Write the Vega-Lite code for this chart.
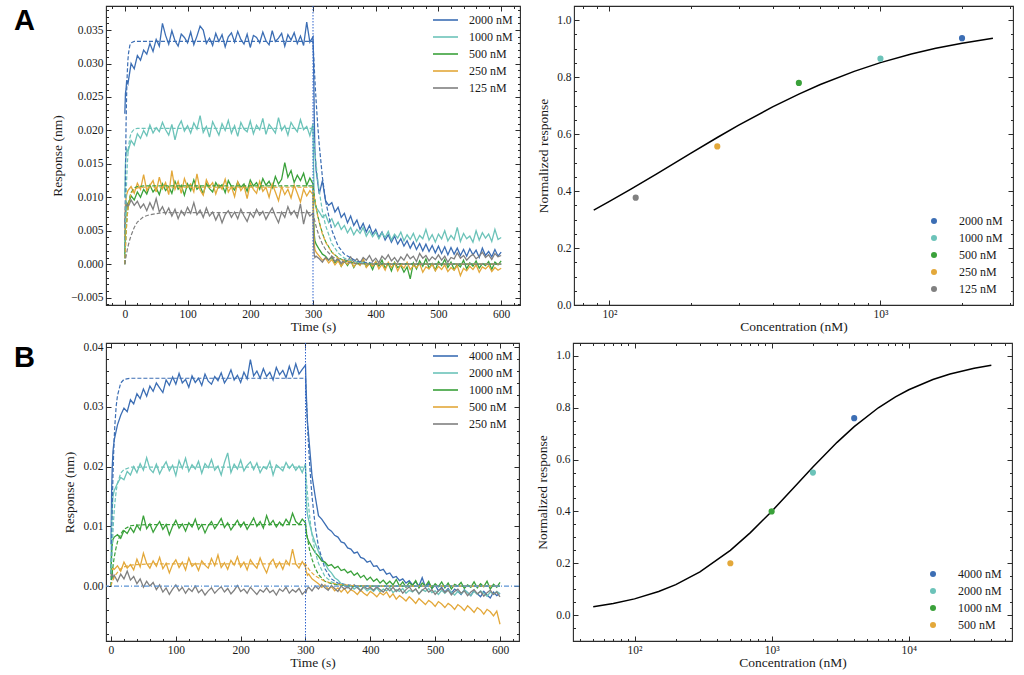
{
  "$schema": "https://vega.github.io/schema/vega-lite/v6.json",
  "background": "white",
  "padding": {"left": 12, "top": 4, "right": 0, "bottom": 0},
  "spacing": 6,
  "resolve": {"scale": {"color": "independent", "stroke": "independent"}},
  "vconcat": [
    {
      "spacing": 14,
      "resolve": {"scale": {"color": "independent", "stroke": "independent"}},
      "hconcat": [
        {
          "width": 414,
          "height": 299,
          "resolve": {"axis": {"x": "independent", "y": "independent"}},
          "layer": [
            {
              "data": {"values": [
                {"t":0,"n2000":0.0225,"n1000":0.0100,"n500":0.0015,"n250":0.0040,"n125":0.0055},
                {"t":1,"n2000":0.0255,"n1000":0.0150,"n500":0.0060,"n250":0.0090,"n125":0.0080},
                {"t":2,"n2000":0.0262,"n1000":0.0165,"n500":0.0085,"n250":0.0098,"n125":0.0088},
                {"t":3,"n2000":0.0275,"n1000":0.0172,"n500":0.0092,"n250":0.0104,"n125":0.0092},
                {"t":5,"n2000":0.0270,"n1000":0.0168,"n500":0.0088,"n250":0.0110,"n125":0.0085},
                {"t":10,"n2000":0.0300,"n1000":0.0185,"n500":0.0102,"n250":0.0116,"n125":0.0096},
                {"t":15,"n2000":0.0292,"n1000":0.0178,"n500":0.0096,"n250":0.0106,"n125":0.0088},
                {"t":20,"n2000":0.0312,"n1000":0.0195,"n500":0.0108,"n250":0.0121,"n125":0.0094},
                {"t":25,"n2000":0.0305,"n1000":0.0188,"n500":0.0100,"n250":0.0112,"n125":0.0084},
                {"t":30,"n2000":0.0320,"n1000":0.0200,"n500":0.0112,"n250":0.0134,"n125":0.0090},
                {"t":35,"n2000":0.0314,"n1000":0.0192,"n500":0.0105,"n250":0.0110,"n125":0.0080},
                {"t":40,"n2000":0.0330,"n1000":0.0208,"n500":0.0118,"n250":0.0118,"n125":0.0092},
                {"t":45,"n2000":0.0318,"n1000":0.0196,"n500":0.0108,"n250":0.0125,"n125":0.0082},
                {"t":50,"n2000":0.0336,"n1000":0.0204,"n500":0.0114,"n250":0.0108,"n125":0.0098},
                {"t":55,"n2000":0.0326,"n1000":0.0198,"n500":0.0104,"n250":0.0130,"n125":0.0078},
                {"t":60,"n2000":0.0360,"n1000":0.0212,"n500":0.0120,"n250":0.0113,"n125":0.0086},
                {"t":65,"n2000":0.0342,"n1000":0.0201,"n500":0.0110,"n250":0.0122,"n125":0.0075},
                {"t":70,"n2000":0.0329,"n1000":0.0193,"n500":0.0116,"n250":0.0104,"n125":0.0084},
                {"t":75,"n2000":0.0349,"n1000":0.0209,"n500":0.0106,"n250":0.0140,"n125":0.0072},
                {"t":80,"n2000":0.0334,"n1000":0.0186,"n500":0.0124,"n250":0.0112,"n125":0.0082},
                {"t":85,"n2000":0.0326,"n1000":0.0205,"n500":0.0112,"n250":0.0124,"n125":0.0068},
                {"t":90,"n2000":0.0344,"n1000":0.0214,"n500":0.0118,"n250":0.0106,"n125":0.0080},
                {"t":95,"n2000":0.0339,"n1000":0.0199,"n500":0.0103,"n250":0.0128,"n125":0.0073},
                {"t":100,"n2000":0.0331,"n1000":0.0207,"n500":0.0120,"n250":0.0115,"n125":0.0085},
                {"t":105,"n2000":0.0347,"n1000":0.0196,"n500":0.0110,"n250":0.0120,"n125":0.0076},
                {"t":110,"n2000":0.0328,"n1000":0.0211,"n500":0.0126,"n250":0.0108,"n125":0.0092},
                {"t":115,"n2000":0.0341,"n1000":0.0202,"n500":0.0112,"n250":0.0135,"n125":0.0074},
                {"t":120,"n2000":0.0356,"n1000":0.0222,"n500":0.0117,"n250":0.0111,"n125":0.0081},
                {"t":125,"n2000":0.0350,"n1000":0.0197,"n500":0.0105,"n250":0.0103,"n125":0.0070},
                {"t":130,"n2000":0.0330,"n1000":0.0206,"n500":0.0121,"n250":0.0126,"n125":0.0084},
                {"t":135,"n2000":0.0338,"n1000":0.0190,"n500":0.0113,"n250":0.0116,"n125":0.0072},
                {"t":140,"n2000":0.0327,"n1000":0.0213,"n500":0.0108,"n250":0.0122,"n125":0.0078},
                {"t":145,"n2000":0.0345,"n1000":0.0203,"n500":0.0122,"n250":0.0105,"n125":0.0066},
                {"t":150,"n2000":0.0333,"n1000":0.0193,"n500":0.0114,"n250":0.0119,"n125":0.0076},
                {"t":155,"n2000":0.0343,"n1000":0.0210,"n500":0.0119,"n250":0.0112,"n125":0.0062},
                {"t":160,"n2000":0.0325,"n1000":0.0200,"n500":0.0107,"n250":0.0127,"n125":0.0074},
                {"t":165,"n2000":0.0340,"n1000":0.0215,"n500":0.0125,"n250":0.0108,"n125":0.0080},
                {"t":170,"n2000":0.0346,"n1000":0.0196,"n500":0.0116,"n250":0.0116,"n125":0.0070},
                {"t":175,"n2000":0.0332,"n1000":0.0207,"n500":0.0111,"n250":0.0101,"n125":0.0078},
                {"t":180,"n2000":0.0348,"n1000":0.0191,"n500":0.0123,"n250":0.0123,"n125":0.0068},
                {"t":185,"n2000":0.0336,"n1000":0.0212,"n500":0.0115,"n250":0.0110,"n125":0.0082},
                {"t":190,"n2000":0.0329,"n1000":0.0202,"n500":0.0120,"n250":0.0117,"n125":0.0072},
                {"t":195,"n2000":0.0344,"n1000":0.0198,"n500":0.0109,"n250":0.0098,"n125":0.0064},
                {"t":200,"n2000":0.0324,"n1000":0.0214,"n500":0.0126,"n250":0.0121,"n125":0.0077},
                {"t":205,"n2000":0.0342,"n1000":0.0195,"n500":0.0117,"n250":0.0112,"n125":0.0070},
                {"t":210,"n2000":0.0339,"n1000":0.0208,"n500":0.0122,"n250":0.0106,"n125":0.0082},
                {"t":215,"n2000":0.0331,"n1000":0.0201,"n500":0.0112,"n250":0.0124,"n125":0.0073},
                {"t":220,"n2000":0.0347,"n1000":0.0218,"n500":0.0128,"n250":0.0109,"n125":0.0079},
                {"t":225,"n2000":0.0334,"n1000":0.0194,"n500":0.0118,"n250":0.0115,"n125":0.0067},
                {"t":230,"n2000":0.0328,"n1000":0.0209,"n500":0.0124,"n250":0.0100,"n125":0.0076},
                {"t":235,"n2000":0.0349,"n1000":0.0203,"n500":0.0114,"n250":0.0120,"n125":0.0084},
                {"t":240,"n2000":0.0333,"n1000":0.0196,"n500":0.0131,"n250":0.0108,"n125":0.0072},
                {"t":245,"n2000":0.0338,"n1000":0.0219,"n500":0.0120,"n250":0.0095,"n125":0.0062},
                {"t":250,"n2000":0.0345,"n1000":0.0200,"n500":0.0127,"n250":0.0116,"n125":0.0078},
                {"t":255,"n2000":0.0326,"n1000":0.0207,"n500":0.0152,"n250":0.0104,"n125":0.0070},
                {"t":260,"n2000":0.0343,"n1000":0.0193,"n500":0.0130,"n250":0.0112,"n125":0.0086},
                {"t":265,"n2000":0.0335,"n1000":0.0212,"n500":0.0140,"n250":0.0099,"n125":0.0074},
                {"t":270,"n2000":0.0346,"n1000":0.0204,"n500":0.0122,"n250":0.0118,"n125":0.0080},
                {"t":275,"n2000":0.0330,"n1000":0.0198,"n500":0.0133,"n250":0.0106,"n125":0.0070},
                {"t":280,"n2000":0.0341,"n1000":0.0216,"n500":0.0125,"n250":0.0093,"n125":0.0090},
                {"t":285,"n2000":0.0327,"n1000":0.0201,"n500":0.0136,"n250":0.0112,"n125":0.0060},
                {"t":290,"n2000":0.0362,"n1000":0.0206,"n500":0.0118,"n250":0.0102,"n125":0.0080},
                {"t":295,"n2000":0.0332,"n1000":0.0192,"n500":0.0129,"n250":0.0110,"n125":0.0072},
                {"t":300,"n2000":0.0340,"n1000":0.0210,"n500":0.0120,"n250":0.0104,"n125":0.0076},
                {"t":301,"n2000":0.0300,"n1000":0.0140,"n500":0.0070,"n250":0.0055,"n125":0.0030},
                {"t":302,"n2000":0.0220,"n1000":0.0100,"n500":0.0045,"n250":0.0030,"n125":0.0015},
                {"t":303,"n2000":0.0170,"n1000":0.0090,"n500":0.0035,"n250":0.0022,"n125":0.0010},
                {"t":305,"n2000":0.0140,"n1000":0.0085,"n500":0.0030,"n250":0.0018,"n125":0.0012},
                {"t":310,"n2000":0.0105,"n1000":0.0078,"n500":0.0022,"n250":0.0012,"n125":0.0008},
                {"t":315,"n2000":0.0125,"n1000":0.0070,"n500":0.0015,"n250":0.0006,"n125":0.0003},
                {"t":320,"n2000":0.0095,"n1000":0.0074,"n500":0.0012,"n250":0.0009,"n125":0.0010},
                {"t":325,"n2000":0.0088,"n1000":0.0062,"n500":0.0006,"n250":0.0002,"n125":0.0006},
                {"t":330,"n2000":0.0092,"n1000":0.0068,"n500":0.0010,"n250":0.0007,"n125":0.0012},
                {"t":335,"n2000":0.0078,"n1000":0.0056,"n500":0.0002,"n250":-0.0001,"n125":0.0004},
                {"t":340,"n2000":0.0085,"n1000":0.0063,"n500":0.0008,"n250":0.0005,"n125":0.0009},
                {"t":345,"n2000":0.0070,"n1000":0.0052,"n500":-0.0003,"n250":-0.0003,"n125":0.0001},
                {"t":350,"n2000":0.0076,"n1000":0.0058,"n500":0.0005,"n250":0.0004,"n125":0.0007},
                {"t":355,"n2000":0.0062,"n1000":0.0047,"n500":-0.0002,"n250":0.0000,"n125":0.0005},
                {"t":360,"n2000":0.0072,"n1000":0.0055,"n500":0.0006,"n250":0.0006,"n125":0.0011},
                {"t":365,"n2000":0.0058,"n1000":0.0044,"n500":-0.0005,"n250":-0.0004,"n125":0.0003},
                {"t":370,"n2000":0.0066,"n1000":0.0052,"n500":0.0003,"n250":0.0002,"n125":0.0008},
                {"t":375,"n2000":0.0052,"n1000":0.0046,"n500":-0.0001,"n250":-0.0002,"n125":0.0002},
                {"t":380,"n2000":0.0061,"n1000":0.0055,"n500":0.0007,"n250":0.0008,"n125":0.0010},
                {"t":385,"n2000":0.0048,"n1000":0.0042,"n500":-0.0004,"n250":-0.0005,"n125":0.0006},
                {"t":390,"n2000":0.0058,"n1000":0.0050,"n500":0.0002,"n250":0.0001,"n125":0.0013},
                {"t":395,"n2000":0.0045,"n1000":0.0041,"n500":-0.0008,"n250":-0.0003,"n125":0.0004},
                {"t":400,"n2000":0.0052,"n1000":0.0048,"n500":0.0004,"n250":0.0004,"n125":0.0009},
                {"t":405,"n2000":0.0040,"n1000":0.0038,"n500":-0.0003,"n250":-0.0007,"n125":0.0002},
                {"t":410,"n2000":0.0048,"n1000":0.0047,"n500":0.0006,"n250":0.0000,"n125":0.0012},
                {"t":415,"n2000":0.0036,"n1000":0.0040,"n500":-0.0006,"n250":-0.0009,"n125":0.0007},
                {"t":420,"n2000":0.0044,"n1000":0.0049,"n500":0.0001,"n250":0.0003,"n125":0.0014},
                {"t":425,"n2000":0.0033,"n1000":0.0036,"n500":-0.0010,"n250":-0.0005,"n125":0.0005},
                {"t":430,"n2000":0.0042,"n1000":0.0045,"n500":0.0003,"n250":0.0002,"n125":0.0010},
                {"t":435,"n2000":0.0030,"n1000":0.0039,"n500":-0.0005,"n250":-0.0010,"n125":0.0003},
                {"t":440,"n2000":0.0038,"n1000":0.0048,"n500":-0.0002,"n250":-0.0001,"n125":0.0011},
                {"t":445,"n2000":0.0027,"n1000":0.0035,"n500":-0.0012,"n250":-0.0006,"n125":0.0006},
                {"t":450,"n2000":0.0035,"n1000":0.0044,"n500":-0.0004,"n250":0.0003,"n125":0.0015},
                {"t":455,"n2000":0.0024,"n1000":0.0037,"n500":-0.0022,"n250":-0.0008,"n125":0.0008},
                {"t":460,"n2000":0.0033,"n1000":0.0046,"n500":0.0002,"n250":-0.0002,"n125":0.0012},
                {"t":465,"n2000":0.0022,"n1000":0.0034,"n500":-0.0007,"n250":-0.0005,"n125":0.0004},
                {"t":470,"n2000":0.0031,"n1000":0.0043,"n500":0.0005,"n250":0.0001,"n125":0.0016},
                {"t":475,"n2000":0.0020,"n1000":0.0038,"n500":-0.0003,"n250":-0.0012,"n125":0.0009},
                {"t":480,"n2000":0.0030,"n1000":0.0052,"n500":0.0008,"n250":-0.0004,"n125":0.0013},
                {"t":485,"n2000":0.0019,"n1000":0.0036,"n500":-0.0006,"n250":-0.0007,"n125":0.0005},
                {"t":490,"n2000":0.0028,"n1000":0.0044,"n500":0.0001,"n250":0.0000,"n125":0.0011},
                {"t":495,"n2000":0.0017,"n1000":0.0033,"n500":-0.0009,"n250":-0.0010,"n125":0.0007},
                {"t":500,"n2000":0.0027,"n1000":0.0045,"n500":0.0004,"n250":-0.0003,"n125":0.0014},
                {"t":505,"n2000":0.0016,"n1000":0.0038,"n500":-0.0002,"n250":-0.0008,"n125":0.0006},
                {"t":510,"n2000":0.0026,"n1000":0.0050,"n500":0.0007,"n250":-0.0001,"n125":0.0012},
                {"t":515,"n2000":0.0014,"n1000":0.0035,"n500":-0.0005,"n250":-0.0011,"n125":0.0003},
                {"t":520,"n2000":0.0025,"n1000":0.0043,"n500":0.0003,"n250":-0.0005,"n125":0.0010},
                {"t":525,"n2000":0.0015,"n1000":0.0037,"n500":-0.0008,"n250":-0.0009,"n125":0.0008},
                {"t":530,"n2000":0.0024,"n1000":0.0055,"n500":0.0000,"n250":-0.0002,"n125":0.0017},
                {"t":535,"n2000":0.0013,"n1000":0.0034,"n500":-0.0004,"n250":-0.0017,"n125":0.0009},
                {"t":540,"n2000":0.0022,"n1000":0.0046,"n500":0.0006,"n250":-0.0006,"n125":0.0013},
                {"t":545,"n2000":0.0012,"n1000":0.0038,"n500":-0.0007,"n250":-0.0010,"n125":0.0006},
                {"t":550,"n2000":0.0023,"n1000":0.0042,"n500":0.0002,"n250":-0.0003,"n125":0.0011},
                {"t":555,"n2000":0.0014,"n1000":0.0033,"n500":-0.0003,"n250":-0.0008,"n125":0.0015},
                {"t":560,"n2000":0.0021,"n1000":0.0050,"n500":0.0005,"n250":-0.0001,"n125":0.0008},
                {"t":565,"n2000":0.0010,"n1000":0.0036,"n500":-0.0006,"n250":-0.0012,"n125":0.0012},
                {"t":570,"n2000":0.0024,"n1000":0.0047,"n500":0.0001,"n250":-0.0004,"n125":0.0018},
                {"t":575,"n2000":0.0013,"n1000":0.0039,"n500":-0.0002,"n250":-0.0007,"n125":0.0010},
                {"t":580,"n2000":0.0019,"n1000":0.0045,"n500":0.0004,"n250":-0.0002,"n125":0.0014},
                {"t":585,"n2000":0.0011,"n1000":0.0034,"n500":-0.0008,"n250":-0.0011,"n125":0.0007},
                {"t":590,"n2000":0.0022,"n1000":0.0052,"n500":0.0003,"n250":-0.0005,"n125":0.0016},
                {"t":595,"n2000":0.0012,"n1000":0.0037,"n500":-0.0001,"n250":-0.0009,"n125":0.0011},
                {"t":600,"n2000":0.0018,"n1000":0.0040,"n500":0.0005,"n250":-0.0006,"n125":0.0013}
              ]},
              "transform": [{"fold": ["n2000", "n1000", "n500", "n250", "n125"], "as": ["k", "r"]}],
              "mark": {"type": "line", "strokeWidth": 1.3},
              "encoding": {
                "x": {"field": "t", "type": "quantitative", "scale": {"domain": [-30, 630], "nice": false}, "axis": {"orient": "bottom", "offset": -5, "titlePadding": 0, "values": [0, 100, 200, 300, 400, 500, 600], "format": "d", "title": "Time (s)"}},
                "y": {"field": "r", "type": "quantitative", "scale": {"domain": [-0.0061, 0.0386], "nice": false, "zero": false}, "axis": {"orient": "left", "offset": -5, "values": [-0.005, 0, 0.005, 0.01, 0.015, 0.02, 0.025, 0.03, 0.035], "format": ".3f", "title": "Response (nm)"}},
                "color": {"field": "k", "type": "nominal", "scale": {"domain": ["n2000", "n1000", "n500", "n250", "n125"], "range": ["#3c6eb4", "#6cc3b9", "#3aa13a", "#e3a83a", "#808080"]}, "legend": {"orient": "none", "legendX": 333.5, "legendY": 8, "title": null, "padding": 0, "symbolType": "M-2.5,0H2.5", "symbolSize": 100, "symbolStrokeWidth": 1.6, "symbolDash": [], "labelOffset": 17.5, "rowPadding": 5, "labelFontSize": 12, "labelExpr": "slice(datum.label, 1) + ' nM'"}}
              }
            },
            {
              "data": {"values": [
                {"t":0,"n2000":0,"n1000":0,"n500":0,"n250":0,"n125":0},
                {"t":1,"n2000":0.0131,"n1000":0.0058,"n500":0.0026,"n250":0.0025,"n125":0.0006},
                {"t":2,"n2000":0.0211,"n1000":0.0099,"n500":0.0046,"n250":0.0045,"n125":0.0012},
                {"t":3,"n2000":0.0259,"n1000":0.0128,"n500":0.0062,"n250":0.0061,"n125":0.0017},
                {"t":4,"n2000":0.0288,"n1000":0.0149,"n500":0.0074,"n250":0.0073,"n125":0.0022},
                {"t":5,"n2000":0.0306,"n1000":0.0165,"n500":0.0083,"n250":0.0082,"n125":0.0026},
                {"t":6,"n2000":0.0316,"n1000":0.0176,"n500":0.0091,"n250":0.0089,"n125":0.0030},
                {"t":8,"n2000":0.0327,"n1000":0.0189,"n500":0.0101,"n250":0.0099,"n125":0.0037},
                {"t":10,"n2000":0.0331,"n1000":0.0196,"n500":0.0107,"n250":0.0106,"n125":0.0043},
                {"t":15,"n2000":0.0333,"n1000":0.0202,"n500":0.0114,"n250":0.0112,"n125":0.0055},
                {"t":20,"n2000":0.0333,"n1000":0.0203,"n500":0.0116,"n250":0.0114,"n125":0.0063},
                {"t":30,"n2000":0.0333,"n1000":0.0203,"n500":0.0117,"n250":0.0115,"n125":0.0071},
                {"t":40,"n2000":0.0333,"n1000":0.0203,"n500":0.0117,"n250":0.0115,"n125":0.0074},
                {"t":60,"n2000":0.0333,"n1000":0.0203,"n500":0.0117,"n250":0.0115,"n125":0.0077},
                {"t":300,"n2000":0.0333,"n1000":0.0203,"n500":0.0117,"n250":0.0115,"n125":0.0077},
                {"t":302,"n2000":0.0294,"n1000":0.0179,"n500":0.0103,"n250":0.0101,"n125":0.0068},
                {"t":304,"n2000":0.0259,"n1000":0.0158,"n500":0.0091,"n250":0.0090,"n125":0.0060},
                {"t":306,"n2000":0.0229,"n1000":0.0140,"n500":0.0080,"n250":0.0079,"n125":0.0053},
                {"t":308,"n2000":0.0202,"n1000":0.0123,"n500":0.0071,"n250":0.0070,"n125":0.0047},
                {"t":310,"n2000":0.0178,"n1000":0.0109,"n500":0.0063,"n250":0.0062,"n125":0.0041},
                {"t":315,"n2000":0.0130,"n1000":0.0079,"n500":0.0046,"n250":0.0045,"n125":0.0030},
                {"t":320,"n2000":0.0095,"n1000":0.0058,"n500":0.0034,"n250":0.0033,"n125":0.0022},
                {"t":330,"n2000":0.0051,"n1000":0.0031,"n500":0.0018,"n250":0.0018,"n125":0.0012},
                {"t":340,"n2000":0.0027,"n1000":0.0017,"n500":0.0010,"n250":0.0009,"n125":0.0006},
                {"t":350,"n2000":0.0015,"n1000":0.0009,"n500":0.0005,"n250":0.0005,"n125":0.0003},
                {"t":370,"n2000":0.0004,"n1000":0.0003,"n500":0.0001,"n250":0.0001,"n125":0.0001},
                {"t":400,"n2000":0.0001,"n1000":0,"n500":0,"n250":0,"n125":0},
                {"t":600,"n2000":0,"n1000":0,"n500":0,"n250":0,"n125":0}
              ]},
              "transform": [{"fold": ["n2000", "n1000", "n500", "n250", "n125"], "as": ["k", "r"]}],
              "mark": {"type": "line", "strokeWidth": 1.2, "strokeDash": [4, 2]},
              "encoding": {
                "x": {"field": "t", "type": "quantitative", "axis": {"orient": "top", "offset": -5, "values": [0, 100, 200, 300, 400, 500, 600], "labels": false, "title": null}},
                "y": {"field": "r", "type": "quantitative", "axis": {"orient": "right", "offset": -5, "values": [-0.005, 0, 0.005, 0.01, 0.015, 0.02, 0.025, 0.03, 0.035], "labels": false, "title": null}},
                "stroke": {"field": "k", "type": "nominal", "scale": {"domain": ["n2000", "n1000", "n500", "n250", "n125"], "range": ["#3c6eb4", "#6cc3b9", "#3aa13a", "#e3a83a", "#808080"]}, "legend": null}
              }
            },
            {
              "data": {"values": [{"t": 300}]},
              "mark": {"type": "rule", "color": "#2f63cc", "strokeWidth": 1, "strokeDash": [1.5, 1.5]},
              "encoding": {"x": {"field": "t", "type": "quantitative", "axis": null}}
            },
            {
              "data": {"values": [{"t": 0, "r": 0}]},
              "mark": {"type": "point", "opacity": 0},
              "encoding": {
                "x": {"field": "t", "type": "quantitative", "axis": {"orient": "bottom", "offset": -2.5, "tickSize": 2.5, "values": [-20,0,20,40,60,80,100,120,140,160,180,200,220,240,260,280,300,320,340,360,380,400,420,440,460,480,500,520,540,560,580,600,620], "labels": false, "title": null}},
                "y": {"field": "r", "type": "quantitative", "axis": {"orient": "left", "offset": -2.5, "tickSize": 2.5, "values": [-0.006,-0.005,-0.004,-0.003,-0.002,-0.001,0,0.001,0.002,0.003,0.004,0.005,0.006,0.007,0.008,0.009,0.01,0.011,0.012,0.013,0.014,0.015,0.016,0.017,0.018,0.019,0.02,0.021,0.022,0.023,0.024,0.025,0.026,0.027,0.028,0.029,0.03,0.031,0.032,0.033,0.034,0.035,0.036,0.037,0.038], "labels": false, "title": "A", "titleFont": "Liberation Sans", "titleFontSize": 29, "titleFontWeight": "bold", "titleColor": "#000", "titleAngle": 0, "titleAlign": "left", "titleBaseline": "top", "titleX": -95, "titleY": 0}}
              }
            },
            {
              "data": {"values": [{"t": 0, "r": 0}]},
              "mark": {"type": "point", "opacity": 0},
              "encoding": {
                "x": {"field": "t", "type": "quantitative", "axis": {"orient": "top", "offset": -2.5, "tickSize": 2.5, "values": [-20,0,20,40,60,80,100,120,140,160,180,200,220,240,260,280,300,320,340,360,380,400,420,440,460,480,500,520,540,560,580,600,620], "labels": false, "title": null}},
                "y": {"field": "r", "type": "quantitative", "axis": {"orient": "right", "offset": -2.5, "tickSize": 2.5, "values": [-0.006,-0.005,-0.004,-0.003,-0.002,-0.001,0,0.001,0.002,0.003,0.004,0.005,0.006,0.007,0.008,0.009,0.01,0.011,0.012,0.013,0.014,0.015,0.016,0.017,0.018,0.019,0.02,0.021,0.022,0.023,0.024,0.025,0.026,0.027,0.028,0.029,0.03,0.031,0.032,0.033,0.034,0.035,0.036,0.037,0.038], "labels": false, "title": null}}
              }
            }
          ]
        },
        {
          "width": 439,
          "height": 299,
          "resolve": {"axis": {"x": "independent", "y": "independent"}},
          "layer": [
            {
              "data": {"values": [
                {"c":87.5,"r":0.3333},{"c":100,"r":0.3636},{"c":120,"r":0.4068},{"c":150,"r":0.4615},
                {"c":200,"r":0.5333},{"c":250,"r":0.5882},{"c":300,"r":0.6316},{"c":400,"r":0.6957},
                {"c":500,"r":0.7407},{"c":600,"r":0.7742},{"c":800,"r":0.8205},{"c":1000,"r":0.8511},
                {"c":1300,"r":0.8814},{"c":1600,"r":0.9014},{"c":2000,"r":0.9195},{"c":2600,"r":0.9369}
              ]},
              "mark": {"type": "line", "color": "#000", "strokeWidth": 1.5},
              "encoding": {
                "x": {"field": "c", "type": "quantitative", "scale": {"type": "log", "domain": [74, 3084], "nice": false}, "axis": {"orient": "bottom", "offset": -5, "titlePadding": 0, "values": [100, 1000], "labelExpr": "datum.value == 100 ? '10²' : '10³'", "title": "Concentration (nM)"}},
                "y": {"field": "r", "type": "quantitative", "scale": {"domain": [0, 1.05], "nice": false}, "axis": {"orient": "left", "offset": -5, "values": [0, 0.2, 0.4, 0.6, 0.8, 1.0], "format": ".1f", "title": "Normalized response"}}
              }
            },
            {
              "data": {"values": [
                {"c":125,"r":0.377,"k":"n125"},
                {"c":250,"r":0.557,"k":"n250"},
                {"c":500,"r":0.780,"k":"n500"},
                {"c":1000,"r":0.865,"k":"n1000"},
                {"c":2000,"r":0.937,"k":"n2000"}
              ]},
              "mark": {"type": "point", "filled": true, "size": 38, "opacity": 1},
              "encoding": {
                "x": {"field": "c", "type": "quantitative", "axis": {"orient": "top", "offset": -5, "values": [100, 1000], "labels": false, "title": null}},
                "y": {"field": "r", "type": "quantitative", "axis": {"orient": "right", "offset": -5, "values": [0, 0.2, 0.4, 0.6, 0.8, 1.0], "labels": false, "title": null}},
                "color": {"field": "k", "type": "nominal", "scale": {"domain": ["n2000", "n1000", "n500", "n250", "n125"], "range": ["#3c6eb4", "#6cc3b9", "#3aa13a", "#e3a83a", "#808080"]}, "legend": {"orient": "bottom-right", "offset": 10, "title": null, "padding": 0, "symbolType": "circle", "symbolSize": 36, "symbolOpacity": 1, "labelOffset": 19, "rowPadding": 5, "labelFontSize": 12, "labelExpr": "slice(datum.label, 1) + ' nM'"}}
              }
            },
            {
              "data": {"values": [{"c": 100, "r": 0.5}]},
              "mark": {"type": "point", "opacity": 0},
              "encoding": {
                "x": {"field": "c", "type": "quantitative", "axis": {"orient": "bottom", "offset": -2.5, "tickSize": 2.5, "values": [80,90,200,300,400,500,600,700,800,900,2000,3000], "labels": false, "title": null}},
                "y": {"field": "r", "type": "quantitative", "axis": {"orient": "left", "offset": -2.5, "tickSize": 2.5, "values": [0,0.05,0.1,0.15,0.2,0.25,0.3,0.35,0.4,0.45,0.5,0.55,0.6,0.65,0.7,0.75,0.8,0.85,0.9,0.95,1.0], "labels": false, "title": null}}
              }
            },
            {
              "data": {"values": [{"c": 100, "r": 0.5}]},
              "mark": {"type": "point", "opacity": 0},
              "encoding": {
                "x": {"field": "c", "type": "quantitative", "axis": {"orient": "top", "offset": -2.5, "tickSize": 2.5, "values": [80,90,200,300,400,500,600,700,800,900,2000,3000], "labels": false, "title": null}},
                "y": {"field": "r", "type": "quantitative", "axis": {"orient": "right", "offset": -2.5, "tickSize": 2.5, "values": [0,0.05,0.1,0.15,0.2,0.25,0.3,0.35,0.4,0.45,0.5,0.55,0.6,0.65,0.7,0.75,0.8,0.85,0.9,0.95,1.0], "labels": false, "title": null}}
              }
            }
          ]
        }
      ]
    },
    {
      "spacing": 14,
      "resolve": {"scale": {"color": "independent", "stroke": "independent"}},
      "hconcat": [
        {
          "width": 413,
          "height": 298,
          "resolve": {"axis": {"x": "independent", "y": "independent"}},
          "layer": [
            {
              "data": {"values": [
                {"t":0,"n4000":0.0070,"n2000":0.0030,"n1000":0.0020,"n500":0.0015,"n250":0.0022},
                {"t":1,"n4000":0.0160,"n2000":0.0100,"n1000":0.0055,"n500":0.0020,"n250":0.0015},
                {"t":2,"n4000":0.0200,"n2000":0.0130,"n1000":0.0070,"n500":0.0025,"n250":0.0025},
                {"t":3,"n4000":0.0225,"n2000":0.0150,"n1000":0.0078,"n500":0.0030,"n250":0.0012},
                {"t":5,"n4000":0.0245,"n2000":0.0160,"n1000":0.0082,"n500":0.0028,"n250":0.0018},
                {"t":10,"n4000":0.0270,"n2000":0.0172,"n1000":0.0086,"n500":0.0034,"n250":0.0008},
                {"t":15,"n4000":0.0286,"n2000":0.0182,"n1000":0.0080,"n500":0.0025,"n250":0.0020},
                {"t":20,"n4000":0.0298,"n2000":0.0178,"n1000":0.0093,"n500":0.0040,"n250":0.0012},
                {"t":25,"n4000":0.0292,"n2000":0.0192,"n1000":0.0088,"n500":0.0030,"n250":0.0025},
                {"t":30,"n4000":0.0312,"n2000":0.0186,"n1000":0.0098,"n500":0.0036,"n250":0.0010},
                {"t":35,"n4000":0.0305,"n2000":0.0200,"n1000":0.0090,"n500":0.0027,"n250":0.0016},
                {"t":40,"n4000":0.0322,"n2000":0.0190,"n1000":0.0102,"n500":0.0045,"n250":0.0004},
                {"t":45,"n4000":0.0314,"n2000":0.0205,"n1000":0.0094,"n500":0.0032,"n250":0.0012},
                {"t":50,"n4000":0.0330,"n2000":0.0194,"n1000":0.0118,"n500":0.0055,"n250":-0.0002},
                {"t":55,"n4000":0.0318,"n2000":0.0215,"n1000":0.0096,"n500":0.0038,"n250":0.0008},
                {"t":60,"n4000":0.0335,"n2000":0.0196,"n1000":0.0104,"n500":0.0030,"n250":0.0000},
                {"t":65,"n4000":0.0326,"n2000":0.0190,"n1000":0.0090,"n500":0.0042,"n250":0.0006},
                {"t":70,"n4000":0.0340,"n2000":0.0204,"n1000":0.0100,"n500":0.0033,"n250":-0.0006},
                {"t":75,"n4000":0.0332,"n2000":0.0188,"n1000":0.0108,"n500":0.0048,"n250":0.0002},
                {"t":80,"n4000":0.0324,"n2000":0.0199,"n1000":0.0095,"n500":0.0029,"n250":-0.0010},
                {"t":85,"n4000":0.0345,"n2000":0.0208,"n1000":0.0103,"n500":0.0038,"n250":-0.0003},
                {"t":90,"n4000":0.0336,"n2000":0.0193,"n1000":0.0086,"n500":0.0022,"n250":-0.0014},
                {"t":95,"n4000":0.0350,"n2000":0.0202,"n1000":0.0100,"n500":0.0036,"n250":-0.0005},
                {"t":100,"n4000":0.0338,"n2000":0.0185,"n1000":0.0110,"n500":0.0044,"n250":0.0002},
                {"t":105,"n4000":0.0356,"n2000":0.0210,"n1000":0.0097,"n500":0.0031,"n250":-0.0008},
                {"t":110,"n4000":0.0340,"n2000":0.0197,"n1000":0.0104,"n500":0.0040,"n250":-0.0002},
                {"t":115,"n4000":0.0346,"n2000":0.0214,"n1000":0.0092,"n500":0.0027,"n250":-0.0012},
                {"t":120,"n4000":0.0333,"n2000":0.0192,"n1000":0.0106,"n500":0.0047,"n250":-0.0004},
                {"t":125,"n4000":0.0352,"n2000":0.0203,"n1000":0.0099,"n500":0.0033,"n250":-0.0009},
                {"t":130,"n4000":0.0341,"n2000":0.0196,"n1000":0.0112,"n500":0.0038,"n250":0.0000},
                {"t":135,"n4000":0.0348,"n2000":0.0209,"n1000":0.0095,"n500":0.0026,"n250":-0.0011},
                {"t":140,"n4000":0.0336,"n2000":0.0189,"n1000":0.0103,"n500":0.0042,"n250":-0.0006},
                {"t":145,"n4000":0.0355,"n2000":0.0205,"n1000":0.0089,"n500":0.0035,"n250":-0.0015},
                {"t":150,"n4000":0.0343,"n2000":0.0198,"n1000":0.0101,"n500":0.0030,"n250":-0.0008},
                {"t":155,"n4000":0.0338,"n2000":0.0212,"n1000":0.0108,"n500":0.0046,"n250":-0.0003},
                {"t":160,"n4000":0.0351,"n2000":0.0194,"n1000":0.0096,"n500":0.0034,"n250":-0.0012},
                {"t":165,"n4000":0.0344,"n2000":0.0201,"n1000":0.0104,"n500":0.0052,"n250":-0.0006},
                {"t":170,"n4000":0.0357,"n2000":0.0186,"n1000":0.0113,"n500":0.0031,"n250":-0.0001},
                {"t":175,"n4000":0.0340,"n2000":0.0207,"n1000":0.0098,"n500":0.0039,"n250":-0.0010},
                {"t":180,"n4000":0.0349,"n2000":0.0223,"n1000":0.0106,"n500":0.0028,"n250":-0.0004},
                {"t":185,"n4000":0.0362,"n2000":0.0190,"n1000":0.0094,"n500":0.0043,"n250":-0.0013},
                {"t":190,"n4000":0.0345,"n2000":0.0204,"n1000":0.0102,"n500":0.0035,"n250":-0.0007},
                {"t":195,"n4000":0.0353,"n2000":0.0196,"n1000":0.0110,"n500":0.0049,"n250":0.0001},
                {"t":200,"n4000":0.0341,"n2000":0.0211,"n1000":0.0099,"n500":0.0032,"n250":-0.0009},
                {"t":205,"n4000":0.0358,"n2000":0.0193,"n1000":0.0107,"n500":0.0040,"n250":-0.0005},
                {"t":210,"n4000":0.0347,"n2000":0.0202,"n1000":0.0095,"n500":0.0027,"n250":-0.0012},
                {"t":215,"n4000":0.0379,"n2000":0.0208,"n1000":0.0104,"n500":0.0044,"n250":-0.0002},
                {"t":220,"n4000":0.0352,"n2000":0.0195,"n1000":0.0114,"n500":0.0036,"n250":-0.0008},
                {"t":225,"n4000":0.0360,"n2000":0.0206,"n1000":0.0100,"n500":0.0030,"n250":-0.0014},
                {"t":230,"n4000":0.0348,"n2000":0.0190,"n1000":0.0108,"n500":0.0047,"n250":-0.0006},
                {"t":235,"n4000":0.0364,"n2000":0.0200,"n1000":0.0097,"n500":0.0033,"n250":-0.0010},
                {"t":240,"n4000":0.0351,"n2000":0.0196,"n1000":0.0118,"n500":0.0022,"n250":-0.0003},
                {"t":245,"n4000":0.0358,"n2000":0.0209,"n1000":0.0103,"n500":0.0038,"n250":-0.0011},
                {"t":250,"n4000":0.0345,"n2000":0.0186,"n1000":0.0110,"n500":0.0045,"n250":-0.0007},
                {"t":255,"n4000":0.0366,"n2000":0.0203,"n1000":0.0099,"n500":0.0031,"n250":-0.0015},
                {"t":260,"n4000":0.0354,"n2000":0.0198,"n1000":0.0107,"n500":0.0040,"n250":-0.0005},
                {"t":265,"n4000":0.0361,"n2000":0.0193,"n1000":0.0101,"n500":0.0028,"n250":-0.0009},
                {"t":270,"n4000":0.0349,"n2000":0.0207,"n1000":0.0112,"n500":0.0043,"n250":-0.0002},
                {"t":275,"n4000":0.0368,"n2000":0.0197,"n1000":0.0104,"n500":0.0035,"n250":-0.0012},
                {"t":280,"n4000":0.0352,"n2000":0.0204,"n1000":0.0122,"n500":0.0062,"n250":-0.0006},
                {"t":285,"n4000":0.0372,"n2000":0.0194,"n1000":0.0108,"n500":0.0037,"n250":-0.0010},
                {"t":290,"n4000":0.0355,"n2000":0.0201,"n1000":0.0103,"n500":0.0030,"n250":-0.0004},
                {"t":295,"n4000":0.0363,"n2000":0.0190,"n1000":0.0112,"n500":0.0041,"n250":-0.0014},
                {"t":300,"n4000":0.0370,"n2000":0.0205,"n1000":0.0106,"n500":0.0032,"n250":-0.0008},
                {"t":301,"n4000":0.0330,"n2000":0.0150,"n1000":0.0092,"n500":0.0025,"n250":-0.0010},
                {"t":302,"n4000":0.0300,"n2000":0.0130,"n1000":0.0085,"n500":0.0022,"n250":-0.0006},
                {"t":303,"n4000":0.0276,"n2000":0.0120,"n1000":0.0080,"n500":0.0018,"n250":-0.0004},
                {"t":305,"n4000":0.0250,"n2000":0.0110,"n1000":0.0075,"n500":0.0020,"n250":-0.0002},
                {"t":310,"n4000":0.0185,"n2000":0.0088,"n1000":0.0065,"n500":0.0012,"n250":-0.0008},
                {"t":315,"n4000":0.0150,"n2000":0.0072,"n1000":0.0056,"n500":0.0008,"n250":0.0000},
                {"t":320,"n4000":0.0118,"n2000":0.0058,"n1000":0.0050,"n500":0.0004,"n250":-0.0005},
                {"t":325,"n4000":0.0112,"n2000":0.0046,"n1000":0.0042,"n500":-0.0002,"n250":0.0003},
                {"t":330,"n4000":0.0104,"n2000":0.0038,"n1000":0.0040,"n500":0.0002,"n250":-0.0003},
                {"t":335,"n4000":0.0096,"n2000":0.0028,"n1000":0.0034,"n500":-0.0005,"n250":-0.0007},
                {"t":340,"n4000":0.0092,"n2000":0.0022,"n1000":0.0036,"n500":-0.0001,"n250":0.0001},
                {"t":345,"n4000":0.0085,"n2000":0.0014,"n1000":0.0030,"n500":-0.0008,"n250":-0.0004},
                {"t":350,"n4000":0.0082,"n2000":0.0010,"n1000":0.0033,"n500":-0.0003,"n250":-0.0009},
                {"t":355,"n4000":0.0074,"n2000":0.0004,"n1000":0.0026,"n500":-0.0010,"n250":0.0000},
                {"t":360,"n4000":0.0072,"n2000":0.0002,"n1000":0.0028,"n500":-0.0004,"n250":-0.0005},
                {"t":365,"n4000":0.0064,"n2000":-0.0003,"n1000":0.0022,"n500":-0.0012,"n250":-0.0001},
                {"t":370,"n4000":0.0062,"n2000":0.0001,"n1000":0.0025,"n500":-0.0006,"n250":-0.0006},
                {"t":375,"n4000":0.0055,"n2000":-0.0005,"n1000":0.0018,"n500":-0.0009,"n250":0.0002},
                {"t":380,"n4000":0.0057,"n2000":-0.0001,"n1000":0.0022,"n500":-0.0014,"n250":-0.0003},
                {"t":385,"n4000":0.0048,"n2000":-0.0007,"n1000":0.0014,"n500":-0.0007,"n250":-0.0008},
                {"t":390,"n4000":0.0046,"n2000":-0.0002,"n1000":0.0018,"n500":-0.0012,"n250":0.0000},
                {"t":395,"n4000":0.0040,"n2000":-0.0008,"n1000":0.0010,"n500":-0.0016,"n250":-0.0005},
                {"t":400,"n4000":0.0042,"n2000":-0.0004,"n1000":0.0015,"n500":-0.0009,"n250":-0.0002},
                {"t":405,"n4000":0.0033,"n2000":-0.0009,"n1000":0.0008,"n500":-0.0013,"n250":-0.0007},
                {"t":410,"n4000":0.0034,"n2000":-0.0003,"n1000":0.0012,"n500":-0.0018,"n250":-0.0001},
                {"t":415,"n4000":0.0026,"n2000":-0.0010,"n1000":0.0005,"n500":-0.0011,"n250":-0.0006},
                {"t":420,"n4000":0.0028,"n2000":-0.0005,"n1000":0.0010,"n500":-0.0015,"n250":-0.0010},
                {"t":425,"n4000":0.0020,"n2000":-0.0008,"n1000":0.0003,"n500":-0.0010,"n250":-0.0003},
                {"t":430,"n4000":0.0022,"n2000":-0.0002,"n1000":0.0008,"n500":-0.0019,"n250":-0.0008},
                {"t":435,"n4000":0.0014,"n2000":-0.0011,"n1000":0.0002,"n500":-0.0013,"n250":-0.0002},
                {"t":440,"n4000":0.0016,"n2000":-0.0006,"n1000":0.0011,"n500":-0.0022,"n250":-0.0009},
                {"t":445,"n4000":0.0009,"n2000":-0.0009,"n1000":0.0000,"n500":-0.0016,"n250":-0.0004},
                {"t":450,"n4000":0.0012,"n2000":-0.0004,"n1000":0.0007,"n500":-0.0020,"n250":-0.0012},
                {"t":455,"n4000":0.0005,"n2000":-0.0012,"n1000":-0.0002,"n500":-0.0025,"n250":-0.0006},
                {"t":460,"n4000":0.0009,"n2000":-0.0007,"n1000":0.0006,"n500":-0.0018,"n250":-0.0001},
                {"t":465,"n4000":0.0002,"n2000":-0.0010,"n1000":0.0001,"n500":-0.0023,"n250":-0.0009},
                {"t":470,"n4000":0.0007,"n2000":-0.0005,"n1000":0.0009,"n500":-0.0029,"n250":-0.0005},
                {"t":475,"n4000":0.0000,"n2000":-0.0013,"n1000":-0.0003,"n500":-0.0021,"n250":-0.0013},
                {"t":480,"n4000":0.0014,"n2000":-0.0006,"n1000":0.0005,"n500":-0.0026,"n250":-0.0007},
                {"t":485,"n4000":-0.0002,"n2000":-0.0009,"n1000":0.0000,"n500":-0.0031,"n250":-0.0003},
                {"t":490,"n4000":0.0004,"n2000":-0.0004,"n1000":0.0008,"n500":-0.0024,"n250":-0.0010},
                {"t":495,"n4000":-0.0004,"n2000":-0.0011,"n1000":-0.0004,"n500":-0.0028,"n250":-0.0006},
                {"t":500,"n4000":0.0002,"n2000":-0.0008,"n1000":0.0004,"n500":-0.0034,"n250":-0.0014},
                {"t":505,"n4000":-0.0008,"n2000":-0.0014,"n1000":-0.0001,"n500":-0.0026,"n250":-0.0008},
                {"t":510,"n4000":-0.0002,"n2000":-0.0007,"n1000":0.0007,"n500":-0.0030,"n250":-0.0004},
                {"t":515,"n4000":-0.0010,"n2000":-0.0012,"n1000":-0.0003,"n500":-0.0036,"n250":-0.0011},
                {"t":520,"n4000":-0.0004,"n2000":-0.0006,"n1000":0.0005,"n500":-0.0029,"n250":-0.0007},
                {"t":525,"n4000":-0.0012,"n2000":-0.0010,"n1000":-0.0005,"n500":-0.0033,"n250":-0.0015},
                {"t":530,"n4000":-0.0005,"n2000":-0.0015,"n1000":0.0003,"n500":-0.0039,"n250":-0.0009},
                {"t":535,"n4000":-0.0009,"n2000":-0.0009,"n1000":0.0000,"n500":-0.0031,"n250":-0.0005},
                {"t":540,"n4000":-0.0014,"n2000":-0.0013,"n1000":0.0006,"n500":-0.0035,"n250":-0.0012},
                {"t":545,"n4000":-0.0006,"n2000":-0.0007,"n1000":-0.0004,"n500":-0.0041,"n250":-0.0008},
                {"t":550,"n4000":-0.0011,"n2000":-0.0011,"n1000":0.0002,"n500":-0.0033,"n250":-0.0016},
                {"t":555,"n4000":-0.0016,"n2000":-0.0016,"n1000":-0.0002,"n500":-0.0038,"n250":-0.0010},
                {"t":560,"n4000":-0.0007,"n2000":-0.0009,"n1000":0.0007,"n500":-0.0044,"n250":-0.0006},
                {"t":565,"n4000":-0.0013,"n2000":-0.0014,"n1000":-0.0003,"n500":-0.0036,"n250":-0.0013},
                {"t":570,"n4000":-0.0018,"n2000":-0.0008,"n1000":0.0004,"n500":-0.0040,"n250":-0.0009},
                {"t":575,"n4000":-0.0009,"n2000":-0.0012,"n1000":-0.0001,"n500":-0.0047,"n250":-0.0017},
                {"t":580,"n4000":-0.0015,"n2000":-0.0017,"n1000":0.0008,"n500":-0.0039,"n250":-0.0011},
                {"t":585,"n4000":-0.0020,"n2000":-0.0010,"n1000":-0.0005,"n500":-0.0043,"n250":-0.0007},
                {"t":590,"n4000":-0.0010,"n2000":-0.0014,"n1000":0.0003,"n500":-0.0050,"n250":-0.0014},
                {"t":595,"n4000":-0.0016,"n2000":-0.0009,"n1000":-0.0002,"n500":-0.0042,"n250":-0.0010},
                {"t":600,"n4000":-0.0012,"n2000":-0.0013,"n1000":0.0006,"n500":-0.0064,"n250":-0.0018}
              ]},
              "transform": [{"fold": ["n4000", "n2000", "n1000", "n500", "n250"], "as": ["k", "r"]}],
              "mark": {"type": "line", "strokeWidth": 1.3},
              "encoding": {
                "x": {"field": "t", "type": "quantitative", "scale": {"domain": [-7.7, 629.3], "nice": false}, "axis": {"orient": "bottom", "offset": -5, "titlePadding": 0, "values": [0, 100, 200, 300, 400, 500, 600], "format": "d", "title": "Time (s)"}},
                "y": {"field": "r", "type": "quantitative", "scale": {"domain": [-0.0092, 0.0407], "nice": false, "zero": false}, "axis": {"orient": "left", "offset": -5, "values": [0, 0.01, 0.02, 0.03, 0.04], "format": ".2f", "title": "Response (nm)"}},
                "color": {"field": "k", "type": "nominal", "scale": {"domain": ["n4000", "n2000", "n1000", "n500", "n250"], "range": ["#3c6eb4", "#6cc3b9", "#3aa13a", "#e3a83a", "#808080"]}, "legend": {"orient": "none", "legendX": 333.5, "legendY": 7, "title": null, "padding": 0, "symbolType": "M-2.5,0H2.5", "symbolSize": 100, "symbolStrokeWidth": 1.6, "symbolDash": [], "labelOffset": 17.5, "rowPadding": 5, "labelFontSize": 12, "labelExpr": "slice(datum.label, 1) + ' nM'"}}
              }
            },
            {
              "data": {"values": [
                {"t":0,"n4000":0,"n2000":0,"n1000":0,"n500":0},
                {"t":1,"n4000":0.0077,"n2000":0.0036,"n1000":0.0012,"n500":0.0004},
                {"t":2,"n4000":0.0137,"n2000":0.0066,"n1000":0.0023,"n500":0.0007},
                {"t":3,"n4000":0.0184,"n2000":0.0090,"n1000":0.0032,"n500":0.0010},
                {"t":4,"n4000":0.0220,"n2000":0.0110,"n1000":0.0041,"n500":0.0012},
                {"t":5,"n4000":0.0248,"n2000":0.0126,"n1000":0.0048,"n500":0.0015},
                {"t":6,"n4000":0.0270,"n2000":0.0139,"n1000":0.0054,"n500":0.0017},
                {"t":8,"n4000":0.0301,"n2000":0.0159,"n1000":0.0065,"n500":0.0020},
                {"t":10,"n4000":0.0319,"n2000":0.0172,"n1000":0.0074,"n500":0.0023},
                {"t":15,"n4000":0.0340,"n2000":0.0189,"n1000":0.0087,"n500":0.0029},
                {"t":20,"n4000":0.0346,"n2000":0.0195,"n1000":0.0095,"n500":0.0032},
                {"t":30,"n4000":0.0348,"n2000":0.0199,"n1000":0.0101,"n500":0.0035},
                {"t":40,"n4000":0.0348,"n2000":0.0199,"n1000":0.0102,"n500":0.0036},
                {"t":60,"n4000":0.0348,"n2000":0.0199,"n1000":0.0103,"n500":0.0037},
                {"t":300,"n4000":0.0348,"n2000":0.0199,"n1000":0.0103,"n500":0.0037},
                {"t":302,"n4000":0.0295,"n2000":0.0168,"n1000":0.0087,"n500":0.0033},
                {"t":304,"n4000":0.0249,"n2000":0.0143,"n1000":0.0074,"n500":0.0030},
                {"t":306,"n4000":0.0211,"n2000":0.0121,"n1000":0.0062,"n500":0.0027},
                {"t":308,"n4000":0.0179,"n2000":0.0102,"n1000":0.0053,"n500":0.0025},
                {"t":310,"n4000":0.0151,"n2000":0.0086,"n1000":0.0045,"n500":0.0022},
                {"t":315,"n4000":0.0100,"n2000":0.0057,"n1000":0.0030,"n500":0.0017},
                {"t":320,"n4000":0.0066,"n2000":0.0038,"n1000":0.0019,"n500":0.0014},
                {"t":330,"n4000":0.0029,"n2000":0.0016,"n1000":0.0008,"n500":0.0008},
                {"t":340,"n4000":0.0012,"n2000":0.0007,"n1000":0.0004,"n500":0.0005},
                {"t":350,"n4000":0.0005,"n2000":0.0003,"n1000":0.0002,"n500":0.0003},
                {"t":370,"n4000":0.0001,"n2000":0,"n1000":0,"n500":0.0001},
                {"t":400,"n4000":0,"n2000":0,"n1000":0,"n500":0},
                {"t":600,"n4000":0,"n2000":0,"n1000":0,"n500":0}
              ]},
              "transform": [{"fold": ["n4000", "n2000", "n1000", "n500"], "as": ["k", "r"]}],
              "mark": {"type": "line", "strokeWidth": 1.2, "strokeDash": [4, 2]},
              "encoding": {
                "x": {"field": "t", "type": "quantitative", "axis": {"orient": "top", "offset": -5, "values": [0, 100, 200, 300, 400, 500, 600], "labels": false, "title": null}},
                "y": {"field": "r", "type": "quantitative", "axis": {"orient": "right", "offset": -5, "values": [0, 0.01, 0.02, 0.03, 0.04], "labels": false, "title": null}},
                "stroke": {"field": "k", "type": "nominal", "scale": {"domain": ["n4000", "n2000", "n1000", "n500"], "range": ["#3c6eb4", "#6cc3b9", "#3aa13a", "#e3a83a"]}, "legend": null}
              }
            },
            {
              "data": {"values": [{"t": 300}]},
              "mark": {"type": "rule", "color": "#2f63cc", "strokeWidth": 1, "strokeDash": [1.5, 1.5]},
              "encoding": {"x": {"field": "t", "type": "quantitative", "axis": null}}
            },
            {
              "data": {"values": [{"r": 0}]},
              "mark": {"type": "rule", "color": "#5b93d4", "strokeWidth": 1.2, "strokeDash": [5, 2, 1, 2]},
              "encoding": {"y": {"field": "r", "type": "quantitative", "axis": null}}
            },
            {
              "data": {"values": [{"t": 0, "r": 0}]},
              "mark": {"type": "point", "opacity": 0},
              "encoding": {
                "x": {"field": "t", "type": "quantitative", "axis": {"orient": "bottom", "offset": -2.5, "tickSize": 2.5, "values": [0,20,40,60,80,100,120,140,160,180,200,220,240,260,280,300,320,340,360,380,400,420,440,460,480,500,520,540,560,580,600,620], "labels": false, "title": null}},
                "y": {"field": "r", "type": "quantitative", "axis": {"orient": "left", "offset": -2.5, "tickSize": 2.5, "values": [-0.008,-0.006,-0.004,-0.002,0,0.002,0.004,0.006,0.008,0.01,0.012,0.014,0.016,0.018,0.02,0.022,0.024,0.026,0.028,0.03,0.032,0.034,0.036,0.038,0.04], "labels": false, "title": "B", "titleFont": "Liberation Sans", "titleFontSize": 29, "titleFontWeight": "bold", "titleColor": "#000", "titleAngle": 0, "titleAlign": "left", "titleBaseline": "top", "titleX": -95, "titleY": 0}}
              }
            },
            {
              "data": {"values": [{"t": 0, "r": 0}]},
              "mark": {"type": "point", "opacity": 0},
              "encoding": {
                "x": {"field": "t", "type": "quantitative", "axis": {"orient": "top", "offset": -2.5, "tickSize": 2.5, "values": [0,20,40,60,80,100,120,140,160,180,200,220,240,260,280,300,320,340,360,380,400,420,440,460,480,500,520,540,560,580,600,620], "labels": false, "title": null}},
                "y": {"field": "r", "type": "quantitative", "axis": {"orient": "right", "offset": -2.5, "tickSize": 2.5, "values": [-0.008,-0.006,-0.004,-0.002,0,0.002,0.004,0.006,0.008,0.01,0.012,0.014,0.016,0.018,0.02,0.022,0.024,0.026,0.028,0.03,0.032,0.034,0.036,0.038,0.04], "labels": false, "title": null}}
              }
            }
          ]
        },
        {
          "width": 439,
          "height": 298,
          "resolve": {"axis": {"x": "independent", "y": "independent"}},
          "layer": [
            {
              "data": {"values": [
                {"c":50,"r":0.0323},{"c":70,"r":0.0446},{"c":100,"r":0.0625},{"c":150,"r":0.0909},
                {"c":200,"r":0.1176},{"c":300,"r":0.1667},{"c":500,"r":0.2500},{"c":700,"r":0.3182},
                {"c":1000,"r":0.4000},{"c":1500,"r":0.5000},{"c":2000,"r":0.5714},{"c":3000,"r":0.6667},
                {"c":4000,"r":0.7273},{"c":6000,"r":0.8000},{"c":8000,"r":0.8421},{"c":10000,"r":0.8696},
                {"c":15000,"r":0.9091},{"c":20000,"r":0.9302},{"c":30000,"r":0.9524},{"c":40000,"r":0.9639}
              ]},
              "mark": {"type": "line", "color": "#000", "strokeWidth": 1.5},
              "encoding": {
                "x": {"field": "c", "type": "quantitative", "scale": {"type": "log", "domain": [35.6, 56600], "nice": false}, "axis": {"orient": "bottom", "offset": -5, "titlePadding": 0, "values": [100, 1000, 10000], "labelExpr": "datum.value == 100 ? '10²' : datum.value == 1000 ? '10³' : '10⁴'", "title": "Concentration (nM)"}},
                "y": {"field": "r", "type": "quantitative", "scale": {"domain": [-0.1, 1.05], "nice": false, "zero": false}, "axis": {"orient": "left", "offset": -5, "values": [0, 0.2, 0.4, 0.6, 0.8, 1.0], "format": ".1f", "title": "Normalized response"}}
              }
            },
            {
              "data": {"values": [
                {"c":500,"r":0.20,"k":"n500"},
                {"c":1000,"r":0.40,"k":"n1000"},
                {"c":2000,"r":0.55,"k":"n2000"},
                {"c":4000,"r":0.76,"k":"n4000"}
              ]},
              "mark": {"type": "point", "filled": true, "size": 38, "opacity": 1},
              "encoding": {
                "x": {"field": "c", "type": "quantitative", "axis": {"orient": "top", "offset": -5, "values": [100, 1000, 10000], "labels": false, "title": null}},
                "y": {"field": "r", "type": "quantitative", "axis": {"orient": "right", "offset": -5, "values": [0, 0.2, 0.4, 0.6, 0.8, 1.0], "labels": false, "title": null}},
                "color": {"field": "k", "type": "nominal", "scale": {"domain": ["n4000", "n2000", "n1000", "n500"], "range": ["#3c6eb4", "#6cc3b9", "#3aa13a", "#e3a83a"]}, "legend": {"orient": "bottom-right", "offset": 10, "title": null, "padding": 0, "symbolType": "circle", "symbolSize": 36, "symbolOpacity": 1, "labelOffset": 19, "rowPadding": 5, "labelFontSize": 12, "labelExpr": "slice(datum.label, 1) + ' nM'"}}
              }
            },
            {
              "data": {"values": [{"c": 100, "r": 0.5}]},
              "mark": {"type": "point", "opacity": 0},
              "encoding": {
                "x": {"field": "c", "type": "quantitative", "axis": {"orient": "bottom", "offset": -2.5, "tickSize": 2.5, "values": [40,50,60,70,80,90,200,300,400,500,600,700,800,900,2000,3000,4000,5000,6000,7000,8000,9000,20000,30000,40000,50000], "labels": false, "title": null}},
                "y": {"field": "r", "type": "quantitative", "axis": {"orient": "left", "offset": -2.5, "tickSize": 2.5, "values": [-0.1,-0.05,0,0.05,0.1,0.15,0.2,0.25,0.3,0.35,0.4,0.45,0.5,0.55,0.6,0.65,0.7,0.75,0.8,0.85,0.9,0.95,1.0], "labels": false, "title": null}}
              }
            },
            {
              "data": {"values": [{"c": 100, "r": 0.5}]},
              "mark": {"type": "point", "opacity": 0},
              "encoding": {
                "x": {"field": "c", "type": "quantitative", "axis": {"orient": "top", "offset": -2.5, "tickSize": 2.5, "values": [40,50,60,70,80,90,200,300,400,500,600,700,800,900,2000,3000,4000,5000,6000,7000,8000,9000,20000,30000,40000,50000], "labels": false, "title": null}},
                "y": {"field": "r", "type": "quantitative", "axis": {"orient": "right", "offset": -2.5, "tickSize": 2.5, "values": [-0.1,-0.05,0,0.05,0.1,0.15,0.2,0.25,0.3,0.35,0.4,0.45,0.5,0.55,0.6,0.65,0.7,0.75,0.8,0.85,0.9,0.95,1.0], "labels": false, "title": null}}
              }
            }
          ]
        }
      ]
    }
  ],
  "config": {
    "font": "Liberation Serif",
    "view": {"stroke": "#2b2b2b", "strokeWidth": 1.1},
    "axis": {
      "domain": false,
      "grid": false,
      "labelFont": "Liberation Serif",
      "labelFontSize": 11.5,
      "labelColor": "#1a1a1a",
      "titleFont": "Liberation Serif",
      "titleFontSize": 13.5,
      "titleFontWeight": "normal",
      "titleColor": "#1a1a1a",
      "tickColor": "#2b2b2b",
      "tickSize": 5,
      "labelPadding": 3,
      "titlePadding": 6,
      "labelOverlap": false
    },
    "legend": {"labelFont": "Liberation Serif", "labelColor": "#1a1a1a"}
  }
}
